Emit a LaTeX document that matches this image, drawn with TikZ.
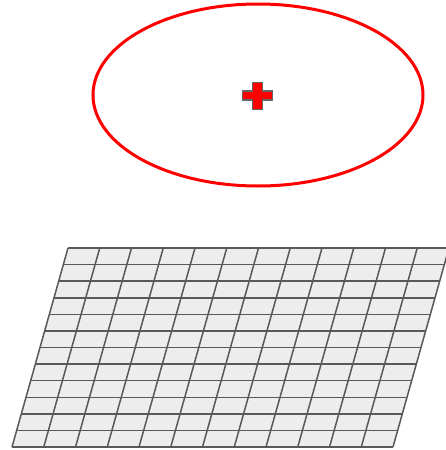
\documentclass[tikz,border=0pt]{standalone}
\begin{document}
\begin{tikzpicture}[x=1pt,y=-1pt,
  gridline/.style={draw=black!65,line width=1.5pt},
  ring/.style={draw=red,line width=3pt},
  crossmark/.style={fill=red,draw=black!60,line width=1.6pt,line join=miter}]
\useasboundingbox (0,0) rectangle (445,450);
% ellipse
\draw[ring] (258,95) ellipse [x radius=165, y radius=91];
% cross
\draw[crossmark] (252.5,82.5) -- (262.5,82.5) -- (262.5,91) -- (272.5,91) -- (272.5,100) -- (262.5,100) -- (262.5,109.5) -- (252.5,109.5) -- (252.5,100) -- (242.5,100) -- (242.5,91) -- (252.5,91) -- cycle;
% grid
\fill[black!7] (68,248) -- (449,248) -- (393,447) -- (12,447) -- cycle;
\foreach \v in {0,...,12}{
  \draw[gridline] ({68-56*\v/12},{248+199*\v/12}) -- ({449-56*\v/12},{248+199*\v/12});
}
\foreach \u in {0,...,12}{
  \draw[gridline] ({68+31.75*\u},248) -- ({12+31.75*\u},447);
}
\end{tikzpicture}
\end{document}
